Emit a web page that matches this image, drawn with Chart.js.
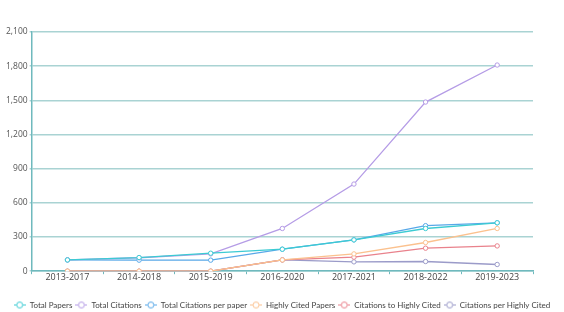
<!DOCTYPE html>
<html><head><meta charset="utf-8">
<script src="https://cdn.jsdelivr.net/npm/chart.js@4"></script>
<style>html,body{margin:0;padding:0;background:#fff}#wrap{width:564px;height:312px}</style>
</head><body><div id="wrap"><canvas id="c"></canvas></div>
<script>
const categories = ["2013-2017","2014-2018","2015-2019","2016-2020","2017-2021","2018-2022","2019-2023"];
const totalPapers = [99, 120, 158, 193, 275, 375, 425];
const totalCitations = [99, 118, 152, 375, 765, 1485, 1810];
const citationsPerPaper = [99, 97, 97, 193, 275, 400, 425];
const highlyCitedPapers = [0, 0, 0, 99, 152, 252, 375];
const citationsToHighlyCited = [0, 0, 0, 99, 123, 202, 222];
const citationsPerHighlyCited = [0, 0, 0, 99, 82, 85, 59];
const yTicks = [0, 300, 600, 900, 1200, 1500, 1800, 2100];

const names = ["Total Papers","Total Citations","Total Citations per paper","Highly Cited Papers","Citations to Highly Cited","Citations per Highly Cited"];
const colors = ["#3ccbd3","#b59ce6","#58a8e8","#fbc18e","#e9828c","#9b9bc9"];
const series = [totalPapers,totalCitations,citationsPerPaper,highlyCitedPapers,citationsToHighlyCited,citationsPerHighlyCited];

function legendIcon(color){
  const cv=document.createElement('canvas'); cv.width=12; cv.height=9;
  const g=cv.getContext('2d');
  g.strokeStyle=color; g.lineWidth=1;
  g.beginPath(); g.moveTo(0,4.5); g.lineTo(12,4.5); g.stroke();
  g.fillStyle='#fff'; g.beginPath(); g.arc(6,4.5,3,0,Math.PI*2); g.fill(); g.stroke();
  return cv;
}
const icons = colors.map(legendIcon);

const datasets = series.map((d,i)=>({
  label:names[i], data:d, borderColor:colors[i], backgroundColor:'#fff',
  borderWidth:1.3, pointRadius:2.2, pointBorderWidth:1, pointBackgroundColor:'#fff',
  pointBorderColor:colors[i], tension:0, fill:false, yAxisID:'y'
}));

new Chart(document.getElementById('c'),{
  type:'line',
  data:{labels:categories,datasets:datasets},
  options:{
    responsive:true, maintainAspectRatio:false, animation:false,
    layout:{padding:{left:4,right:4,top:32,bottom:-7}},
    plugins:{
      tooltip:{enabled:false},
      legend:{position:'bottom',
        labels:{usePointStyle:true, pointStyleWidth:12, boxWidth:12, boxHeight:8, padding:3, color:'#444',
          font:{family:'Lato, sans-serif', size:8},
          generateLabels(chart){
            return chart.data.datasets.map((ds,i)=>({text:ds.label, pointStyle:icons[i], fillStyle:'#fff', strokeStyle:colors[i], lineWidth:0, datasetIndex:i, fontColor:'#444'}));
          }}}
    },
    scales:{
      x:{offset:true,
        grid:{display:true, drawOnChartArea:false, drawTicks:true, tickLength:3, color:'#6fb9bd', offset:true},
        border:{color:'#6fb9bd', width:1.5},
        ticks:{color:'#444', font:{family:'"Open Sans", sans-serif', size:9}, padding:-2, maxRotation:0},
        afterFit(s){s.height+=17;}},
      y:{min:0,max:2100,
        afterBuildTicks(ax){ax.ticks=yTicks.map(v=>({value:v}));},
        grid:{color:'#a9d3d3', lineWidth:1.5, drawTicks:true, tickLength:2},
        border:{color:'#6fb9bd', width:1.5},
        ticks:{color:'#555', font:{family:'"Open Sans", sans-serif', size:8.5}, padding:2,
          callback:v=>v.toLocaleString('en-US')}},
      yPad:{position:'right', display:true, min:0, max:1,
        grid:{display:false}, border:{display:false}, ticks:{display:false},
        afterFit(s){s.width=27;}}
    }
  }
});
</script></body></html>
